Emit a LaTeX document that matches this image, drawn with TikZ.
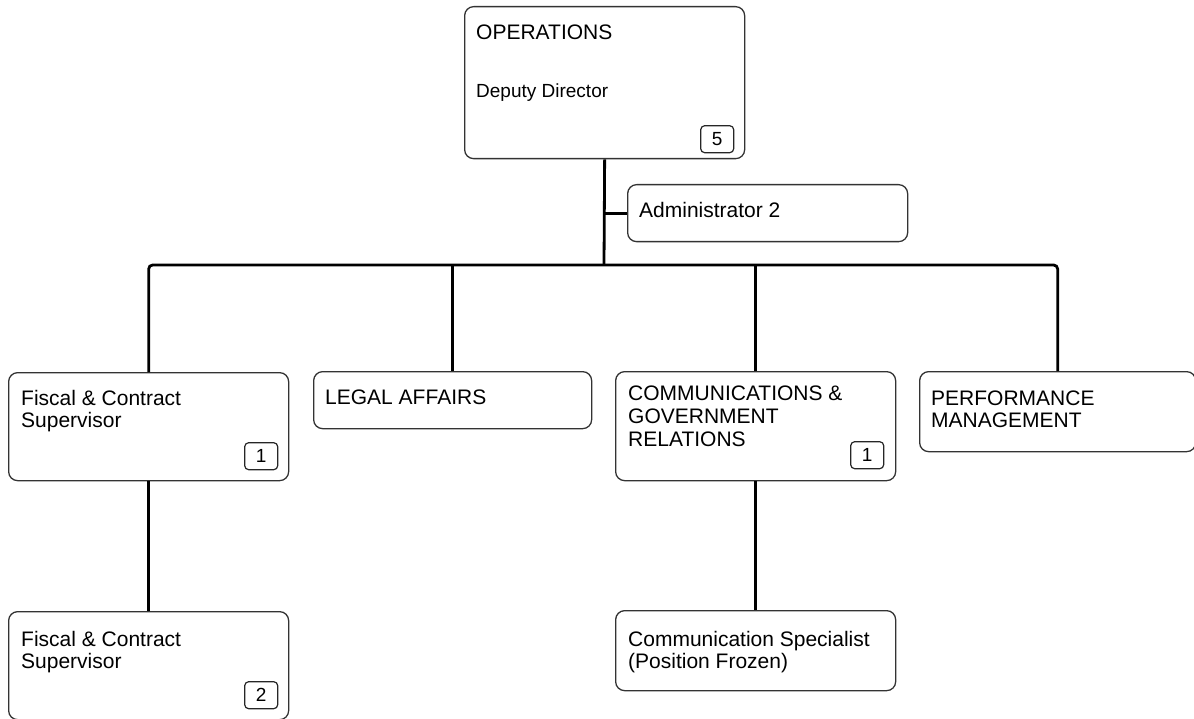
\documentclass[tikz,border=0pt]{standalone}
\usepackage{fontspec}
\setmainfont{Liberation Sans}
\usepackage{tikz}

\begin{document}
\begin{tikzpicture}[
  x = 1pt, y = -1pt,
  unit/.style = {draw = black!80, line width = 1.3pt, rounded corners = 9pt,
                 minimum width = 280pt, anchor = north west, inner sep = 0pt},
  title/.style = {anchor = north west, inner sep = 0pt, align = left,
                  font = \fontsize{21}{22}\selectfont},
  count/.style = {draw = black!85, line width = 1.2pt, rounded corners = 4pt,
                  minimum width = 33pt, minimum height = 27pt, inner sep = 0pt,
                  anchor = south east, font = \fontsize{19}{19}\selectfont},
  link/.style = {line width = 2.8pt, rounded corners = 4pt}
  ]
  \useasboundingbox (0,0) rectangle (1194,719);

  % boxes
  \node[unit, minimum height = 152pt] (ops) at (464,6) {};
  \node[unit, minimum height = 57pt] (admin) at (627,184) {};
  \node[unit, minimum height = 108pt] (fiscal) at (8,372) {};
  \node[unit, minimum height = 57pt, minimum width = 278pt] (legal) at (313,371) {};
  \node[unit, minimum height = 109pt] (comm) at (615,371) {};
  \node[unit, minimum height = 80pt, minimum width = 276pt] (perf) at (919,371) {};
  \node[unit, minimum height = 108pt] (fiscalb) at (8,611) {};
  \node[unit, minimum height = 80pt] (spec) at (615,610) {};

  % texts
  \node[title] (ops-t) at ([shift={(12,19)}]ops.north west) {OPERATIONS};
  \node[title, font = \fontsize{19}{20}\selectfont] (ops-s)
    at ([shift={(12,78)}]ops.north west) {Deputy Director};
  \node[title] (admin-t) at ([shift={(12,18)}]admin.north west) {Administrator 2};
  \node[title] (fiscal-t) at ([shift={(13,18)}]fiscal.north west)
    {Fiscal \& Contract\\Supervisor};
  \node[title] (legal-t) at ([shift={(12,19)}]legal.north west) {LEGAL AFFAIRS};
  \node[title, font = \fontsize{21}{23}\selectfont] (comm-t)
    at ([shift={(13,15)}]comm.north west)
    {COMMUNICATIONS \&\\GOVERNMENT\\RELATIONS};
  \node[title] (perf-t) at ([shift={(12,20)}]perf.north west)
    {PERFORMANCE\\MANAGEMENT};
  \node[title] (fiscalb-t) at ([shift={(13,20)}]fiscalb.north west)
    {Fiscal \& Contract\\Supervisor};
  \node[title] (spec-t) at ([shift={(13,21)}]spec.north west)
    {Communication Specialist\\(Position Frozen)};

  % counts
  \node[count] (ops-n) at ([shift={(-11,-6)}]ops.south east) {5};
  \node[count] (fiscal-n) at ([shift={(-11,-11)}]fiscal.south east) {1};
  \node[count] (comm-n) at ([shift={(-12,-12)}]comm.south east) {1};
  \node[count] (fiscalb-n) at ([shift={(-11,-11)}]fiscalb.south east) {2};

  % links
  \coordinate (bar) at (604,265);
  \draw[link] (ops.south) -- (bar);
  \draw[link] (ops.south |- admin.west) -- (admin.west);
  \draw[link] (fiscal.north) |- (bar) -| (perf.north);
  \draw[link] (legal.north) -- (legal.north |- bar);
  \draw[link] (comm.north) -- (comm.north |- bar);
  \draw[link] (fiscal.south) -- (fiscalb.north);
  \draw[link] (comm.south) -- (spec.north);
\end{tikzpicture}
\end{document}
